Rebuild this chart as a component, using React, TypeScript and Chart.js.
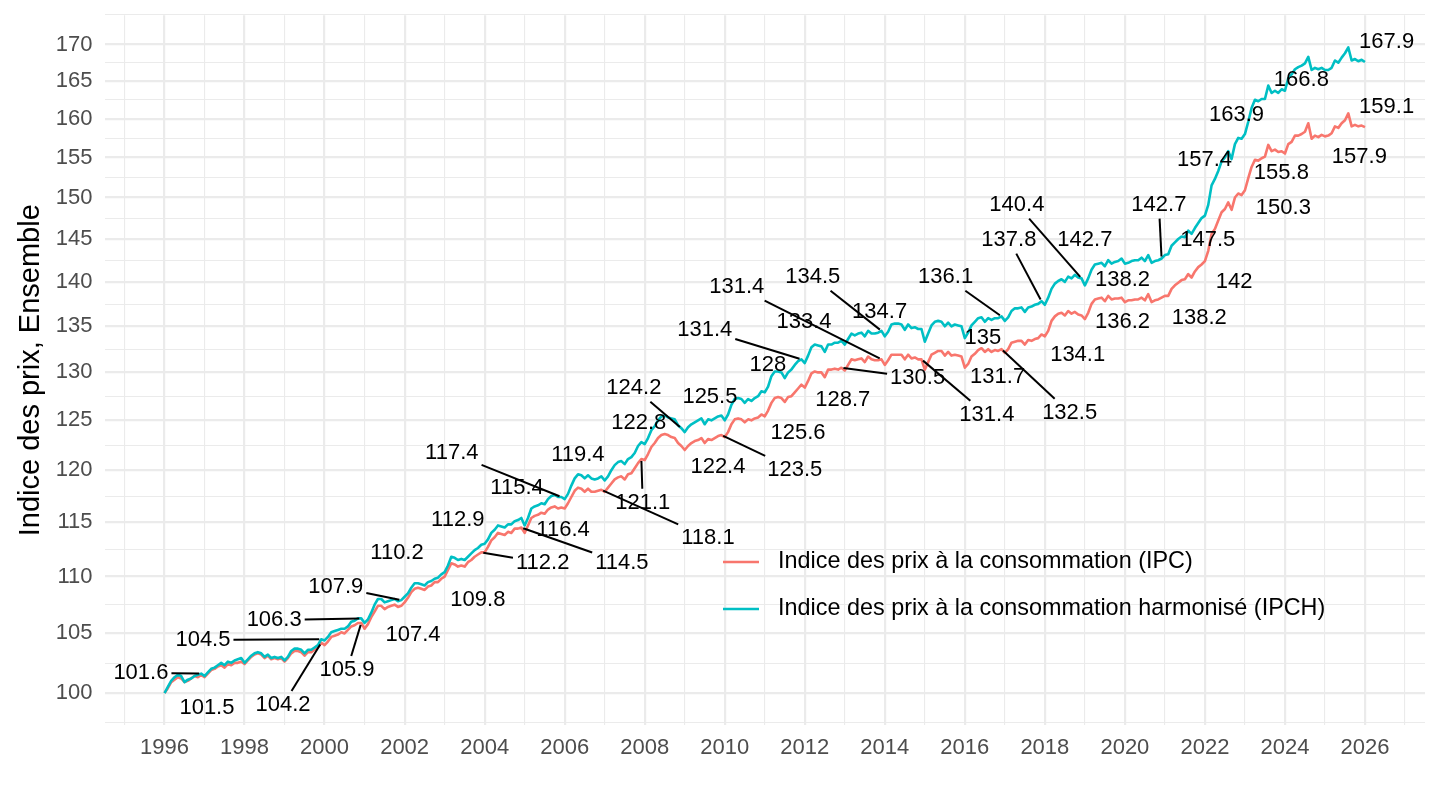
import { useEffect, useRef } from 'react';
import { Chart, registerables } from 'chart.js';

Chart.register(...registerables);

const FONT = '"Liberation Sans", Arial, Helvetica, sans-serif';

// Monthly index values, Jan 1996 = 100, from 1996-01 to 2026-01
const startYear = 1996;

const ipcValues = [
  100.0, 100.4, 100.9, 101.1, 101.3, 101.2, 100.9, 101.0, 101.2, 101.4, 101.3, 101.5,
  101.3, 101.6, 101.9, 102.0, 102.2, 102.3, 102.1, 102.4, 102.3, 102.5, 102.5, 102.6,
  102.4, 102.7, 103.0, 103.2, 103.3, 103.2, 102.9, 103.1, 102.8, 102.9, 102.8, 102.9,
  102.6, 102.9, 103.3, 103.5, 103.5, 103.4, 103.1, 103.4, 103.4, 103.6, 103.8, 104.2,
  104.0, 104.3, 104.7, 104.8, 104.9, 105.1, 105.0, 105.3, 105.6, 105.7, 105.9, 105.9,
  105.4, 105.8, 106.4, 106.9, 107.4, 107.4, 107.1, 107.3, 107.4, 107.5, 107.3, 107.4,
  107.7, 108.1, 108.6, 108.9, 109.0, 108.9, 108.8, 109.1, 109.2, 109.5, 109.5, 109.8,
  110.0, 110.6, 111.2, 111.1, 110.9, 111.0, 110.9, 111.3, 111.5, 111.8, 112.0, 112.2,
  112.2, 112.7, 113.3, 113.6, 114.0, 113.9, 113.8, 114.1, 114.0, 114.4, 114.4, 114.5,
  114.0, 114.7, 115.4, 115.6, 115.7, 115.9, 115.8, 116.2, 116.4, 116.5, 116.3, 116.4,
  116.3, 116.8, 117.4, 118.0, 118.3, 118.2, 117.9, 118.2, 117.9, 117.9, 118.0, 118.1,
  117.9, 118.3, 118.7, 119.1, 119.3, 119.4, 119.1, 119.6, 119.7, 120.2, 120.7, 121.1,
  121.0, 121.6, 122.3, 122.7, 123.2, 123.5, 123.6, 123.5, 123.3, 123.2, 122.7, 122.4,
  122.0, 122.4, 122.7, 122.9, 123.0, 123.2, 122.7, 123.1, 123.0, 123.2, 123.4, 123.5,
  123.3, 123.8, 124.6, 125.1, 125.2, 125.1, 124.8, 125.1, 125.0, 125.2, 125.3, 125.6,
  125.4, 126.0, 126.8, 127.3, 127.4, 127.3, 126.9, 127.4, 127.5, 127.9, 128.3, 128.7,
  128.4, 129.1, 129.9, 130.1, 130.0, 130.0, 129.5, 130.3, 130.3, 130.4, 130.3, 130.5,
  130.2, 130.8, 131.4, 131.3, 131.4, 131.5, 131.1, 131.7, 131.4, 131.3, 131.3, 131.4,
  130.8, 131.3, 131.9, 131.9, 131.9, 131.9, 131.4, 131.9, 131.5, 131.6, 131.4, 131.4,
  130.3, 131.1, 131.9, 132.1, 132.3, 132.3, 131.8, 132.2, 131.8, 131.9, 131.8, 131.7,
  130.5, 130.9, 131.7, 132.0, 132.4, 132.6, 132.2, 132.5, 132.2, 132.4, 132.3, 132.5,
  132.1, 132.5, 133.2, 133.3, 133.4, 133.4, 133.0, 133.5, 133.4, 133.6, 133.7, 134.1,
  133.9, 134.5, 135.6, 136.1, 136.4, 136.5, 136.2, 136.7, 136.4, 136.6, 136.3, 136.2,
  135.8, 136.5, 137.5, 138.0, 138.1, 138.2, 137.8, 138.4, 138.0, 138.1, 138.1, 138.2,
  137.7, 137.9, 137.9, 138.0, 138.0, 138.2, 137.9, 138.6, 137.7, 137.9, 138.0, 138.2,
  138.4, 138.4, 139.2, 139.6, 139.9, 140.2, 140.3, 140.9, 140.5, 141.2, 141.7, 142.0,
  142.4, 143.6, 145.6, 146.2, 147.2, 148.2, 148.6, 149.4, 148.5, 150.0, 150.5, 150.3,
  150.9, 152.4, 153.8, 154.7, 154.6, 154.9, 155.1, 156.6, 155.8, 156.0, 155.7, 155.8,
  155.5, 156.7, 157.0, 157.8, 157.8, 158.0, 158.3, 159.4, 157.4, 157.8, 157.6, 157.9,
  157.7, 157.8, 158.1, 159.0, 158.8, 159.4, 159.8, 160.7, 159.0, 159.2, 159.0, 159.1,
  158.9,
];

const ipchValues = [
  100.0, 100.5, 101.0, 101.3, 101.5, 101.4, 100.9, 101.1, 101.2, 101.4, 101.5, 101.6,
  101.4, 101.7, 102.0, 102.1, 102.3, 102.5, 102.3, 102.6, 102.5, 102.7, 102.8, 102.9,
  102.5, 102.8, 103.1, 103.3, 103.4, 103.3, 103.0, 103.2, 102.9, 103.0, 102.9, 103.0,
  102.7, 103.0, 103.5, 103.7, 103.7, 103.6, 103.3, 103.6, 103.6, 103.8, 104.0, 104.5,
  104.4, 104.7, 105.1, 105.2, 105.3, 105.4, 105.4, 105.6, 106.0, 106.1, 106.3, 106.3,
  105.9, 106.2, 106.8, 107.5, 108.0, 108.0, 107.7, 107.8, 107.9, 108.0, 107.8, 107.9,
  108.2, 108.5, 109.0, 109.4, 109.4, 109.3, 109.2, 109.5, 109.6, 109.8, 109.9, 110.2,
  110.4, 111.0, 111.8, 111.7, 111.5, 111.6, 111.5, 111.8, 112.1, 112.4, 112.6, 112.9,
  113.0, 113.4, 114.0, 114.3, 114.7, 114.6, 114.5, 114.8, 114.8, 115.1, 115.2, 115.4,
  114.7, 115.4, 116.3, 116.5, 116.6, 116.8, 116.7, 117.2, 117.5, 117.6, 117.4, 117.4,
  117.2, 117.7, 118.5, 119.2, 119.6, 119.5, 119.2, 119.5, 119.2, 119.1, 119.2, 119.4,
  119.0, 119.4, 120.0, 120.5, 120.8, 120.9, 120.6, 121.1, 121.3, 121.7, 122.4, 122.8,
  122.6, 123.2, 124.0, 124.4, 125.0, 125.4, 125.5, 125.3, 125.2, 125.1, 124.5, 124.2,
  123.8, 124.3, 124.6, 124.8, 125.0, 125.2, 124.6, 125.1, 125.0, 125.2, 125.4, 125.5,
  125.0, 125.6, 126.6, 127.2, 127.3, 127.2, 126.8, 127.2, 127.0, 127.3, 127.5, 128.0,
  127.9, 128.5, 129.6, 130.1, 130.1, 130.0, 129.4, 130.0, 130.3, 130.8, 131.2, 131.4,
  131.0, 131.8, 132.7, 133.0, 132.9, 132.8, 132.2, 133.0, 133.0, 133.2, 133.2, 133.4,
  133.0, 133.6, 134.2, 134.0, 134.2, 134.3, 133.9, 134.5, 134.2, 134.2, 134.3, 134.5,
  133.9, 134.4, 135.2, 135.3, 135.3, 135.2, 134.6, 135.2, 134.8, 134.9, 134.7, 134.7,
  133.3, 134.2, 135.1, 135.5, 135.6, 135.5, 135.0, 135.4, 135.0, 135.2, 135.1, 135.0,
  133.7, 134.3, 135.1, 135.5, 135.9, 136.0, 135.5, 135.9, 135.7, 135.9, 135.9, 136.1,
  135.6, 136.0, 136.7, 137.0, 137.0, 137.1, 136.6, 137.1, 137.2, 137.4, 137.5, 137.8,
  137.4, 138.2, 139.2, 139.8, 140.1, 140.3, 140.0, 140.6, 140.4, 140.8, 140.5, 140.4,
  139.6, 140.4, 141.4, 142.0, 142.1, 142.2, 141.8, 142.5, 142.1, 142.3, 142.4, 142.7,
  142.1, 142.2, 142.4, 142.5, 142.5, 142.8, 142.4, 143.1, 142.2, 142.4, 142.5, 142.7,
  143.1, 143.2, 144.2, 144.6, 145.0, 145.3, 145.2, 146.0, 145.6, 146.3, 146.9, 147.5,
  147.8, 149.1, 151.5, 152.3, 153.3, 154.5, 155.0, 155.8, 154.8, 156.7, 157.5, 157.4,
  158.0, 159.6, 161.4, 162.5, 162.3, 162.6, 162.6, 164.4, 163.4, 163.7, 163.4, 163.9,
  163.7, 165.4, 165.9, 166.6, 166.9, 167.1, 167.4, 168.3, 166.5, 166.8, 166.6, 166.8,
  166.5, 166.5, 166.8, 167.8, 167.5, 168.2, 168.8, 169.6, 167.8, 168.0, 167.7, 167.9,
  167.6,
];

// Years whose December value is labelled
const labelYears = [
  1996, 1999, 2000, 2001, 2002, 2003, 2004, 2005, 2006, 2007, 2008, 2009, 2010, 2011,
  2012, 2013, 2014, 2015, 2016, 2017, 2018, 2019, 2020, 2021, 2022, 2023, 2024, 2025,
];

// Repelled label placement, in data units (decimal year, index value)
const ipcLabelX = [
  1997.06, 1998.96, 2000.56, 2002.21, 2003.83, 2005.45, 2007.43, 2005.96, 2009.58, 2007.95,
  2009.83, 2011.75, 2011.83, 2012.95, 2014.82, 2010.3, 2016.55, 2016.82, 2018.62, 2018.82,
  2019.94, 2019.94, 2021.86, 2022.73, 2023.96, 2023.91, 2025.86, 2026.54,
];
const ipcLabelY = [
  98.78, 99.02, 101.9, 104.86, 107.91, 111.23, 111.23, 114.28, 113.54, 116.84,
  120.33, 120.04, 123.73, 127.12, 129.43, 139.45, 125.57, 129.54, 125.78, 131.89,
  135.51, 140.25, 135.95, 140.02, 148.77, 153.09, 155.11, 161.6,
];
const ipchLabelX = [
  1995.41, 1996.96, 1998.74, 2000.28, 2001.81, 2003.33, 2004.81, 2003.18, 2006.33, 2007.85,
  2007.73, 2009.63, 2011.08, 2009.5, 2011.98, 2012.2, 2013.87, 2016.45, 2015.52, 2017.1,
  2017.3, 2019.0, 2020.85, 2022.07, 2021.99, 2022.79, 2024.41, 2026.54,
];
const ipchLabelY = [
  101.65, 104.44, 106.16, 109.07, 112.15, 115.22, 118.28, 121.72, 121.52, 124.75,
  128.38, 127.43, 130.82, 134.62, 135.51, 140.59, 136.62, 133.74, 140.59, 144.92,
  149.13, 144.92, 149.13, 144.92, 154.73, 160.54, 165.21, 170.43,
];

const seriesNames = [
  'Indice des prix à la consommation (IPC)',
  'Indice des prix à la consommation harmonisé (IPCH)',
];
const seriesColors = ['#F8766D', '#00BFC4'];

const xMajorTicks = [1996, 1998, 2000, 2002, 2004, 2006, 2008, 2010, 2012, 2014, 2016, 2018, 2020, 2022, 2024, 2026];
const yMajorTicks = [100, 105, 110, 115, 120, 125, 130, 135, 140, 145, 150, 155, 160, 165, 170];
const yAxisTitle = 'Indice des prix, Ensemble';

// grid helpers (ggplot-like minor breaks)
const xMinorTicks: number[] = [];
for (let i = 0; i <= xMajorTicks.length; i++) {
  const base = i < xMajorTicks.length ? xMajorTicks[i] : xMajorTicks[xMajorTicks.length - 1] + 2;
  xMinorTicks.push(base - 1);
}
const xAllTicks = [...xMajorTicks, ...xMinorTicks].sort((a, b) => a - b);

const yMinorTicks: number[] = [];
for (let i = 0; i < yMajorTicks.length - 1; i++) {
  yMinorTicks.push(Math.sqrt(yMajorTicks[i] * yMajorTicks[i + 1]));
}
const firstRatio = yMajorTicks[1] / yMajorTicks[0];
yMinorTicks.unshift(yMajorTicks[0] / Math.sqrt(firstRatio));
yMinorTicks.push(yMajorTicks[yMajorTicks.length - 1] * Math.sqrt(firstRatio));
const yAllTicks = [...yMajorTicks, ...yMinorTicks].sort((a, b) => a - b);

const allVals = [...ipcValues, ...ipchValues];
const logMin = Math.log(Math.min(...allVals));
const logMax = Math.log(Math.max(...allVals));
const logPad = (logMax - logMin) * 0.05;
const yMin = Math.exp(logMin - logPad);
const yMax = Math.exp(logMax + logPad);
const lastX = startYear + (ipcValues.length - 1) / 12;
const xPad = (lastX - startYear) * 0.05;

const fmt = (v: number) => String(Math.round(v * 10) / 10);

const repelPlugin = {
  id: 'repelLabels',
  afterDatasetsDraw(chart: any) {
    const { ctx } = chart;
    const xs = chart.scales.x;
    const ys = chart.scales.y;
    ctx.save();
    ctx.font = `22px ${FONT}`;
    const groups = [
      { values: ipcValues, lx: ipcLabelX, ly: ipcLabelY },
      { values: ipchValues, lx: ipchLabelX, ly: ipchLabelY },
    ];
    const texts: { text: string; cx: number; cy: number }[] = [];
    groups.forEach((g) => {
      labelYears.forEach((yr, i) => {
        const idx = (yr - startYear) * 12 + 11;
        const v = g.values[idx];
        const px = xs.getPixelForValue(startYear + idx / 12);
        const py = ys.getPixelForValue(v);
        const cx = xs.getPixelForValue(g.lx[i]);
        const cy = ys.getPixelForValue(g.ly[i]);
        const text = fmt(v);
        const w = ctx.measureText(text).width;
        const hw = w / 2 + 3;
        const hh = 14;
        const dx = px - cx;
        const dy = py - cy;
        const len = Math.hypot(dx, dy);
        const tx = Math.abs(dx) < 1e-6 ? Infinity : hw / Math.abs(dx);
        const ty = Math.abs(dy) < 1e-6 ? Infinity : hh / Math.abs(dy);
        const t = Math.min(tx, ty);
        if (t < 1 && (1 - t) * len > 26) {
          const sx = cx + dx * t;
          const sy = cy + dy * t;
          const ex = px - (dx / len) * 2;
          const ey = py - (dy / len) * 2;
          ctx.beginPath();
          ctx.moveTo(sx, sy);
          ctx.lineTo(ex, ey);
          ctx.strokeStyle = '#000000';
          ctx.lineWidth = 2;
          ctx.stroke();
        }
        texts.push({ text, cx, cy });
      });
    });
    ctx.fillStyle = '#000000';
    ctx.textAlign = 'center';
    ctx.textBaseline = 'middle';
    texts.forEach((t) => ctx.fillText(t.text, t.cx, t.cy));
    ctx.restore();
  },
};

const legendPlugin = {
  id: 'insideLegend',
  afterDraw(chart: any) {
    const { ctx } = chart;
    ctx.save();
    const rows = [562, 609];
    seriesNames.forEach((name, i) => {
      ctx.beginPath();
      ctx.moveTo(723, rows[i]);
      ctx.lineTo(759, rows[i]);
      ctx.strokeStyle = seriesColors[i];
      ctx.lineWidth = 2.6;
      ctx.stroke();
      ctx.fillStyle = '#000000';
      ctx.font = `23.4px ${FONT}`;
      ctx.textAlign = 'left';
      ctx.textBaseline = 'middle';
      ctx.fillText(name, 778, rows[i]);
    });
    ctx.restore();
  },
};

export default function App() {
  const canvasRef = useRef<HTMLCanvasElement | null>(null);

  useEffect(() => {
    document.body.style.margin = '0';
    const canvas = canvasRef.current;
    if (!canvas) return;
    const toPoints = (vals: number[]) => vals.map((v, i) => ({ x: startYear + i / 12, y: v }));
    const chart = new Chart(canvas, {
      type: 'line',
      data: {
        datasets: [
          {
            label: seriesNames[1],
            data: toPoints(ipchValues),
            borderColor: seriesColors[1],
            backgroundColor: seriesColors[1],
            borderWidth: 2.6,
            pointRadius: 0,
            tension: 0,
            borderJoinStyle: 'round',
          },
          {
            label: seriesNames[0],
            data: toPoints(ipcValues),
            borderColor: seriesColors[0],
            backgroundColor: seriesColors[0],
            borderWidth: 2.6,
            pointRadius: 0,
            tension: 0,
            borderJoinStyle: 'round',
          },
        ],
      },
      options: {
        animation: false,
        responsive: true,
        maintainAspectRatio: false,
        events: [],
        layout: { padding: { top: 15.2, right: 15, left: 0, bottom: 0 } },
        plugins: {
          legend: { display: false },
          tooltip: { enabled: false },
          title: { display: false },
        },
        scales: {
          x: {
            type: 'linear',
            min: startYear - xPad,
            max: lastX + xPad,
            afterBuildTicks: (s: any) => {
              s.ticks = xAllTicks.map((v) => ({ value: v }));
            },
            afterFit: (s: any) => {
              s.height = 84.7;
              s.paddingLeft = 0;
              s.paddingRight = 0;
            },
            ticks: {
              autoSkip: false,
              maxRotation: 0,
              minRotation: 0,
              padding: 9.5,
              color: '#4D4D4D',
              font: { family: FONT, size: 22 },
              callback: (v: any) => (xMajorTicks.includes(Number(v)) ? String(v) : ''),
            },
            grid: {
              color: '#EBEBEB',
              drawTicks: false,
              lineWidth: (c: any) => (c.tick && xMajorTicks.includes(c.tick.value) ? 2.2 : 1.1),
            },
            border: { display: false },
          },
          y: {
            type: 'logarithmic',
            min: yMin,
            max: yMax,
            afterBuildTicks: (s: any) => {
              s.ticks = yAllTicks.map((v) => ({ value: v }));
            },
            afterFit: (s: any) => {
              s.width = 104.5;
              s.paddingTop = 0;
              s.paddingBottom = 0;
            },
            ticks: {
              autoSkip: false,
              padding: 12,
              color: '#4D4D4D',
              font: { family: FONT, size: 22 },
              callback: (v: any) => (yMajorTicks.includes(Number(v)) ? String(v) : ''),
            },
            grid: {
              color: '#EBEBEB',
              drawTicks: false,
              lineWidth: (c: any) => (c.tick && yMajorTicks.includes(c.tick.value) ? 2.2 : 1.1),
            },
            border: { display: false },
            title: {
              display: true,
              text: yAxisTitle,
              color: '#000000',
              font: { family: FONT, size: 29 },
              padding: { top: 14, bottom: 0 },
            },
          },
        },
      },
      plugins: [repelPlugin, legendPlugin],
    } as any);
    return () => chart.destroy();
  }, []);

  return (
    <div style={{ position: 'fixed', left: 0, top: 0, width: 1440, height: 810, background: '#ffffff' }}>
      <canvas ref={canvasRef} />
    </div>
  );
}
